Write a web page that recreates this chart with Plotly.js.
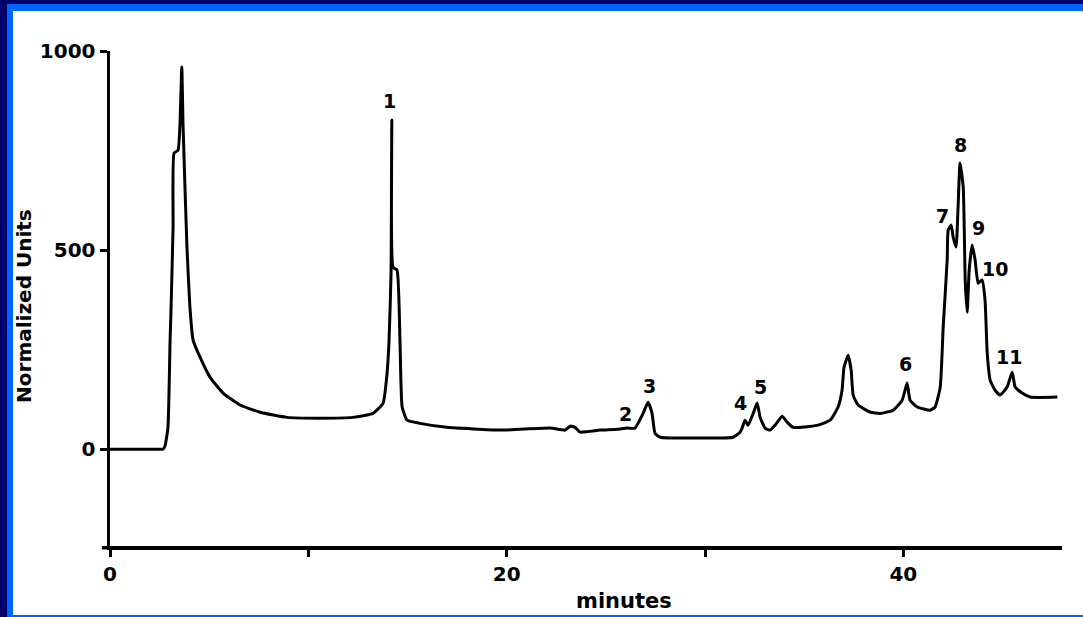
<!DOCTYPE html>
<html>
<head>
<meta charset="utf-8">
<script src="https://cdn.plot.ly/plotly-3.0.1.min.js"></script>
<style>
  html, body { margin: 0; padding: 0; }
  body { width: 1083px; height: 617px; overflow: hidden; background: #00006b; position: relative; }
  #frame { position: absolute; left: 7px; top: 4px; width: 1076px; height: 613px; background: #0064ff; }
  #chart { position: absolute; left: 13px; top: 11px; width: 1070px; height: 604px; background: #ffffff; }
</style>
</head>
<body>
<div id="frame"></div>
<div id="chart"></div>
<script>
// Retention time (minutes) and detector response (normalized units)
const minutes = [
  0, 1.5, 2.45, 2.67, 2.77, 2.92, 3.03, 3.08, 3.18, 3.23, 3.43, 3.53, 3.62, 3.68, 3.88, 4.03, 4.19,
  4.54, 5.04, 5.70, 6.56, 7.56, 8.93, 10.44, 12.25, 13.26, 13.77, 13.97, 14.07, 14.17,
  14.21, 14.27, 14.47, 14.62, 14.73, 14.98, 15.63, 16.99, 19.67, 22.19, 22.95, 23.20,
  23.45, 23.70, 24.71, 25.57, 26.07, 26.47, 26.88, 27.13, 27.33, 27.48, 27.74, 29.75,
  31.42, 31.77, 31.87, 32.02, 32.17, 32.43, 32.63, 32.78, 33.03, 33.28, 33.53, 33.89,
  34.14, 34.44, 35.65, 36.31, 36.71, 36.91, 37.01, 37.22, 37.37, 37.47, 37.72, 38.33,
  38.83, 39.49, 39.94, 40.19, 40.34, 40.70, 41.35, 41.60, 41.86, 42.01, 42.21, 42.26,
  42.41, 42.51, 42.66, 42.76, 42.86, 43.02, 43.12, 43.22, 43.32, 43.47, 43.62, 43.77,
  43.97, 44.12, 44.23, 44.38, 44.63, 44.88, 45.23, 45.49, 45.64, 45.99, 46.39, 47.76
];
const response = [
  0, 0, 0, 0, 8, 53, 274, 357, 558, 744, 751, 819, 960, 819, 508, 357, 274,
  231, 181, 141, 111, 93, 80, 78, 80, 90, 116, 191, 274, 442,
  827, 457, 450, 274, 106, 73, 65, 55, 48, 53, 48, 58,
  55, 43, 48, 50, 53, 53, 90, 118, 90, 40, 30, 28,
  30, 43, 53, 73, 60, 90, 116, 80, 53, 48, 60, 83,
  68, 55, 60, 73, 106, 148, 206, 236, 198, 136, 111, 93,
  90, 98, 123, 166, 123, 106, 98, 106, 156, 307, 475, 550,
  563, 533, 508, 608, 719, 658, 425, 344, 450, 513, 475, 417,
  425, 374, 241, 173, 148, 136, 156, 193, 156, 141, 131, 131
];

// Peak numbers and where each number sits
const peakLabels = ['1', '2', '3', '4', '5', '6', '7', '8', '9', '10', '11'];
const peakLabelX = [14.07, 25.97, 27.18, 31.77, 32.78, 40.09, 41.96, 42.86, 43.77, 44.63, 45.34];
const peakLabelY = [874, 88, 158, 116, 156, 214, 585, 764, 555, 452, 231];

// Axis ticks
const xTickVals = [0, 10, 20, 30, 40];
const xTickText = ['0', '', '20', '', '40'];
const yTickVals = [0, 500, 1000];
const yTickText = ['0', '500', '1000'];

const boldFont = { family: 'DejaVu Sans, Arial, sans-serif', size: 20, color: '#000', weight: 700 };

const trace = {
  x: minutes,
  y: response,
  type: 'scatter',
  mode: 'lines',
  line: { color: '#000', width: 3, shape: 'spline', smoothing: 0.45 },
  hoverinfo: 'x+y'
};

const annotations = peakLabels.map((t, i) => ({
  x: peakLabelX[i], y: peakLabelY[i], xref: 'x', yref: 'y',
  xanchor: 'center', yanchor: 'middle',
  text: t, showarrow: false,
  font: { family: boldFont.family, size: 19, color: '#000', weight: 700 }
}));

annotations.push({
  xref: 'paper', yref: 'paper', x: 0.54, y: -0.111,
  xanchor: 'center', yanchor: 'middle',
  text: 'minutes', showarrow: false,
  font: { family: boldFont.family, size: 21, color: '#000', weight: 700 }
});
annotations.push({
  xref: 'paper', yref: 'paper', x: -0.0903, y: 0.485,
  xanchor: 'center', yanchor: 'middle',
  text: 'Normalized Units', textangle: -90, showarrow: false,
  font: { family: boldFont.family, size: 20, color: '#000', weight: 700 }
});

const layout = {
  width: 1070,
  height: 604,
  margin: { l: 97, r: 21, t: 40, b: 69 },
  paper_bgcolor: '#ffffff',
  plot_bgcolor: '#ffffff',
  showlegend: false,
  xaxis: {
    range: [0, 48],
    showline: true, linecolor: '#000', linewidth: 3.5,
    ticks: 'outside', ticklen: 7, tickwidth: 3, tickcolor: '#000',
    tickvals: xTickVals, ticktext: xTickText,
    tickfont: boldFont,
    showgrid: false, zeroline: false
  },
  yaxis: {
    range: [-243, 1000],
    showline: true, linecolor: '#000', linewidth: 3.5,
    ticks: 'outside', ticklen: 7, tickwidth: 3, tickcolor: '#000',
    tickvals: yTickVals, ticktext: yTickText,
    tickfont: boldFont,
    showgrid: false, zeroline: false
  },
  shapes: [{
    type: 'line', xref: 'paper', yref: 'paper',
    x0: -0.0085, x1: 0, y0: -0.0035, y1: -0.0035,
    line: { color: '#000', width: 3.5 }
  }],
  annotations: annotations
};

Plotly.newPlot('chart', [trace], layout, { displayModeBar: false, staticPlot: true });
</script>
</body>
</html>
